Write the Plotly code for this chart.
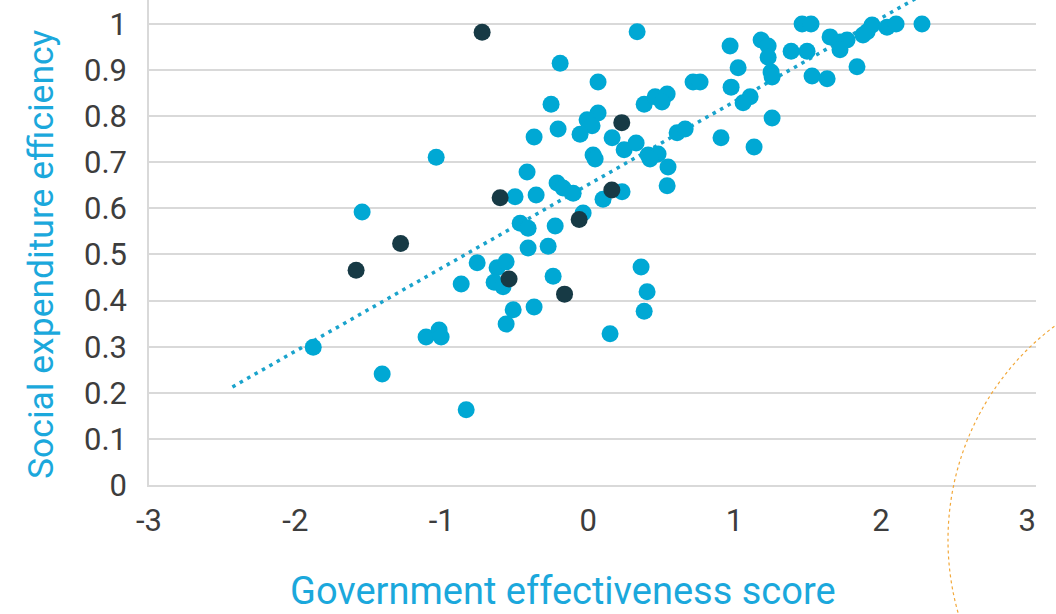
import numpy as np
import plotly.graph_objects as go

# Highlighted (dark) countries
dark_x = [-0.724, -0.601, -1.281, -1.585, -0.540, -0.161, -0.061, 0.162, 0.230]
dark_y = [0.982, 0.623, 0.524, 0.466, 0.447, 0.414, 0.576, 0.640, 0.786]

# Other countries (cyan)
cyan_x = [-1.038, -1.544, 0.335, -0.191, 0.068, -0.253, 0.068, -0.007, 0.027, -0.205,
          -0.369, -0.055, 0.164, 0.246, 0.328, 0.410, 0.478, 0.423, 0.546, 0.540,
          0.034, 0.048, 0.383, 0.458, 0.540, 0.505, 0.717, 0.765, 0.608, 0.663,
          0.908, -0.417, -0.499, -0.355, -0.212, -0.171, -0.102, 0.102, 0.232, -0.034,
          -0.464, -0.410, -0.225, -0.410, -0.273, -0.758, -0.622, -0.560, -0.642, -0.581,
          -0.867, -0.239, -0.512, -0.369, -0.560, -1.107, -1.018, -1.004, 0.150, 0.362,
          0.403, 0.383, -0.833, -1.878, -1.407, 1.462, 1.523, 0.970, 1.182, 1.230,
          1.230, 1.025, 1.250, 1.257, 0.977, 1.107, 1.059, 1.257, 1.134, 1.387,
          1.496, 1.530, 1.633, 1.653, 1.721, 1.769, 1.721, 1.837, 1.906, 1.940,
          1.878, 2.042, 2.104, 2.281]
cyan_y = [0.711, 0.592, 0.983, 0.915, 0.874, 0.826, 0.807, 0.792, 0.779, 0.772,
          0.755, 0.761, 0.753, 0.727, 0.742, 0.716, 0.718, 0.707, 0.690, 0.649,
          0.716, 0.707, 0.826, 0.842, 0.848, 0.831, 0.874, 0.874, 0.764, 0.772,
          0.753, 0.679, 0.625, 0.629, 0.655, 0.644, 0.633, 0.620, 0.636, 0.590,
          0.568, 0.557, 0.562, 0.514, 0.518, 0.482, 0.471, 0.484, 0.440, 0.430,
          0.436, 0.453, 0.380, 0.386, 0.349, 0.321, 0.336, 0.321, 0.328, 0.473,
          0.419, 0.377, 0.163, 0.299, 0.241, 1.000, 1.000, 0.952, 0.965, 0.952,
          0.928, 0.905, 0.896, 0.885, 0.863, 0.842, 0.829, 0.796, 0.733, 0.941,
          0.941, 0.887, 0.881, 0.972, 0.961, 0.965, 0.944, 0.907, 0.983, 0.998,
          0.976, 0.993, 1.000, 1.000]

x_ticks = [-3, -2, -1, 0, 1, 2, 3]
x_tick_text = ["-3", "-2", "-1", "0", "1", "2", "3"]
y_ticks = [0, 0.1, 0.2, 0.3, 0.4, 0.5, 0.6, 0.7, 0.8, 0.9, 1]
y_tick_text = ["0", "0.1", "0.2", "0.3", "0.4", "0.5", "0.6", "0.7", "0.8", "0.9", "1"]

# Linear trendline (least squares over all countries), extended with forecast
all_x = np.array(cyan_x + dark_x)
all_y = np.array(cyan_y + dark_y)
slope, intercept = np.polyfit(all_x, all_y, 1)
trend_x = np.array([-2.43, 2.9])
trend_y = slope * trend_x + intercept

CYAN = "#00a8d4"
DARK = "#173a45"
FONT = "Roboto"

fig = go.Figure()
fig.add_trace(go.Scatter(x=trend_x, y=trend_y, mode="lines",
                         line=dict(color="#1aa3cc", width=3.5, dash="3.5px,5px"),
                         hoverinfo="skip", showlegend=False))
fig.add_trace(go.Scatter(x=cyan_x, y=cyan_y, mode="markers",
                         marker=dict(color=CYAN, size=17, line=dict(width=0)),
                         showlegend=False))
fig.add_trace(go.Scatter(x=dark_x, y=dark_y, mode="markers",
                         marker=dict(color=DARK, size=17, line=dict(width=0)),
                         showlegend=False))

fig.update_layout(
    width=1056, height=614,
    margin=dict(l=149, r=20, t=0, b=129),
    paper_bgcolor="white", plot_bgcolor="white",
    font=dict(family=FONT, color="#3d3d3d"),
    xaxis=dict(range=[-3, 3.06], tickvals=x_ticks, ticktext=x_tick_text,
               showgrid=False, zeroline=False,
               showline=True, linecolor="#d9d9d9", linewidth=1.5,
               tickfont=dict(size=31, color="#3d3d3d"), ticks="", ticklabelstandoff=7),
    yaxis=dict(range=[0, 1.052], tickvals=y_ticks, ticktext=y_tick_text,
               showgrid=True, gridcolor="#d9d9d9", gridwidth=1.5, zeroline=False,
               showline=True, linecolor="#d9d9d9", linewidth=1.5,
               tickfont=dict(size=31, color="#3d3d3d"), ticks="", ticklabelstandoff=14),
    annotations=[
        dict(text="Social expenditure efficiency", textangle=-90, xref="paper", yref="paper",
             x=(41 - 149) / 887, y=(485 - 254) / 485, xanchor="center", yanchor="middle",
             showarrow=False, font=dict(size=35.5, color="#1ba8dc", family=FONT)),
        dict(text="Government effectiveness score", xref="paper", yref="paper",
             x=(563 - 149) / 887, y=(485 - 591) / 485, xanchor="center", yanchor="middle",
             showarrow=False, font=dict(size=38, color="#1ba8dc", family=FONT)),
    ],
    shapes=[
        dict(type="circle", xref="paper", yref="paper",
             x0=(948 - 149) / 887, x1=(1484 - 149) / 887,
             y0=(485 - 808) / 485, y1=(485 - 272) / 485,
             line=dict(color="#f2a83a", width=1.2, dash="dot"), layer="above"),
    ],
)

fig.write_html("out.html", config={"displayModeBar": False},
               post_script="document.body.style.margin='0';document.body.style.overflow='hidden';")
